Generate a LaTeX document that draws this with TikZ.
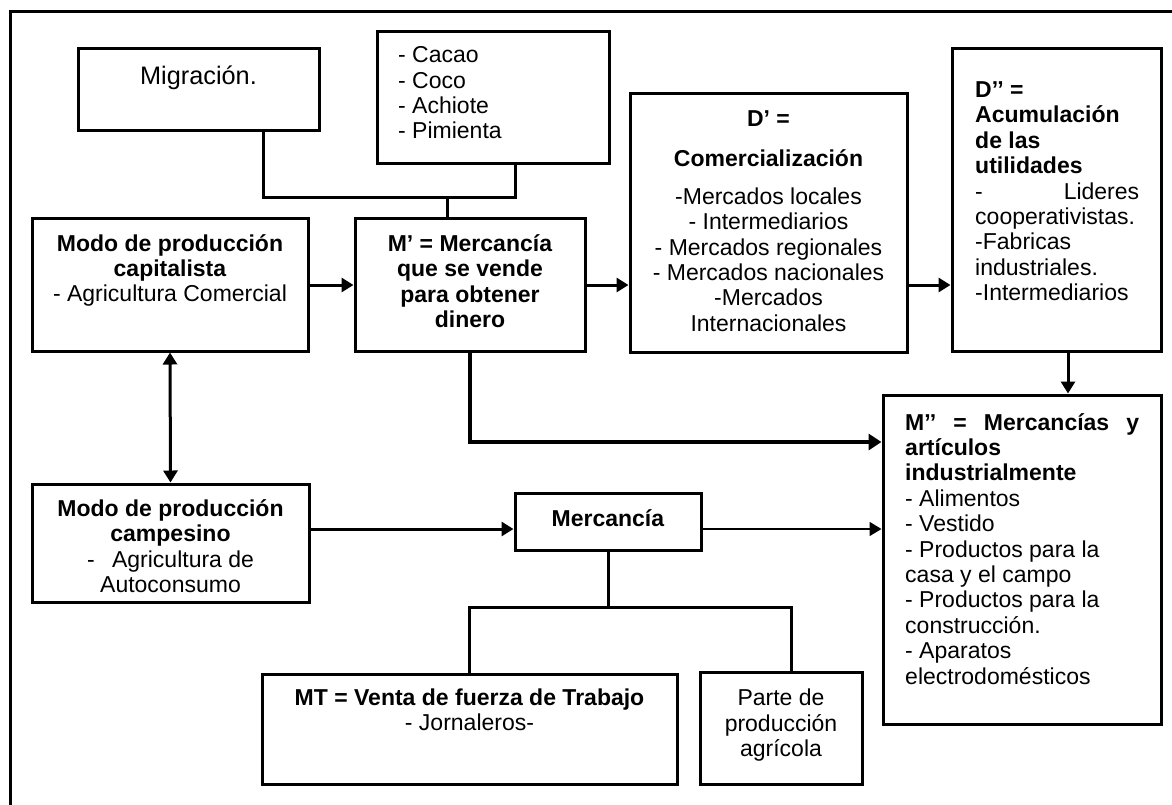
\documentclass[tikz,border=0pt]{standalone}
\usepackage{fontspec}
\setmainfont{Liberation Sans}
\usetikzlibrary{arrows.meta}
\newcommand\fs{\fontsize{23}{25.4}\selectfont}
\begin{document}
\begin{tikzpicture}[x=1pt,y=-1pt,
  box/.style={draw, line width=3pt, inner sep=0pt, rectangle},
  txt/.style={inner sep=0pt, font=\fs},
  conn/.style={line width=3pt},
  arr/.style={line width=3pt, -{Triangle[length=12pt,width=14pt]}},
  thickarr/.style={line width=4.5pt, -{Triangle[length=13pt,width=16pt]}},
  thinarr/.style={line width=1.7pt, -{Triangle[length=12pt,width=14pt]}}]
\useasboundingbox (0,0) rectangle (1172,804);
\clip (0,0) rectangle (1172,804);
\fill[white] (0,0) rectangle (1172,804);
% frame
\draw[line width=3pt] (10,830) -- (10,11) -- (1190,11);
% boxes
\node[box, minimum width=241pt, minimum height=82pt] (mig) at (198.5,89) {};
\node[box, minimum width=232pt, minimum height=132pt] (cacao) at (493,97) {};
\node[box, minimum width=276pt, minimum height=133pt] (cap) at (170,284.5) {};
\node[box, minimum width=230pt, minimum height=133pt] (mp) at (470,284.5) {};
\node[box, minimum width=277pt, minimum height=259pt] (dp) at (768.5,222.5) {};
\node[box, minimum width=209pt, minimum height=303pt] (dpp) at (1056.5,199.5) {};
\node[box, minimum width=278pt, minimum height=329pt] (mpp) at (1022,559.5) {};
\node[box, minimum width=277pt, minimum height=118pt] (camp) at (170.5,543) {};
\node[box, minimum width=186pt, minimum height=57pt] (merc) at (608,521.5) {};
\node[box, minimum width=415pt, minimum height=110pt] (mt) at (469.5,729) {};
\node[box, minimum width=162pt, minimum height=112pt] (parte) at (781,728) {};
% texts
\node[txt, anchor=north, font=\fontsize{25.3}{28}\selectfont] (tmig) at (198.5,65.5) {Migración.};
\node[txt, anchor=north west, align=left] (tcac) at (398,46.5) {- Cacao\\- Coco\\- Achiote\\- Pimienta};
\node[txt, anchor=north, align=center] (tcap) at (170,234) {\textbf{Modo de producción}\\\textbf{capitalista}\\- Agricultura Comercial};
\node[txt, anchor=north, align=center] (tmp) at (470,234.5) {\textbf{M’ = Mercancía}\\\textbf{que se vende}\\\textbf{para obtener}\\\textbf{dinero}};
\node[txt, anchor=north, align=center] (tdp) at (768.5,110.5) {\textbf{D’ =}\\[14.5pt]\textbf{Comercialización}\\[12.5pt]-Mercados locales\\- Intermediarios\\- Mercados regionales\\- Mercados nacionales\\-Mercados\\Internacionales};
\node[txt, anchor=north west, align=left] (tdpp) at (975,81.5) {\textbf{D’’ =}\\\textbf{Acumulación}\\\textbf{de las}\\\textbf{utilidades}\\\hbox to 164pt{-\hfill Lideres}\\cooperativistas.\\-Fabricas\\industriales.\\-Intermediarios};
\node[txt, anchor=north west, align=left] (tmpp) at (905,413) {\hbox to 234pt{\bfseries M’’\hfill=\hfill Mercancías\hfill y}\\\textbf{artículos}\\\textbf{industrialmente}\\- Alimentos\\- Vestido\\- Productos para la\\casa y el campo\\- Productos para la\\construcción.\\- Aparatos\\electrodomésticos};
\node[txt, anchor=north, align=center] (tcamp) at (170.5,499.5) {\textbf{Modo de producción}\\\textbf{campesino}\\-\hspace{11pt} Agricultura de\\Autoconsumo};
\node[txt, anchor=north] (tmerc) at (608,509) {\textbf{Mercancía}};
\node[txt, anchor=north, align=center] (tmt) at (469.5,688.5) {\textbf{MT = Venta de fuerza de Trabajo}\\- Jornaleros-};
\node[txt, anchor=north, align=center] (tparte) at (781,689) {Parte de\\producción\\agrícola};
% connector coordinates
\coordinate (jm) at (263,197);
\coordinate (jc) at (515,197);
\coordinate (jp) at (447,197);
\coordinate (ya) at (0,285);
\coordinate (xd) at (1068,0);
\coordinate (yt) at (0,442);
\coordinate (yc) at (0,529);
\coordinate (yl) at (0,607);
\coordinate (xp) at (791,0);
% connectors
\draw[conn] (mig.south -| jm) -- (jm) -- (jc) -- (cacao.south -| jc);
\draw[conn] (jp) -- (mp.north -| jp);
\draw[arr] (cap.east |- ya) -- (mp.west |- ya);
\draw[arr] (mp.east |- ya) -- (dp.west |- ya);
\draw[arr] (dp.east |- ya) -- (dpp.west |- ya);
\draw[arr] (dpp.south -| xd) -- (mpp.north -| xd);
\draw[conn, {Triangle[length=12pt,width=14pt]}-{Triangle[length=12pt,width=14pt]}] (cap.south) -- (camp.north);
\draw[thickarr] (mp.south) |- (mpp.west |- yt);
\draw[arr] (camp.east |- yc) -- (merc.west |- yc);
\draw[thinarr] (merc.east |- yc) -- (mpp.west |- yc);
\draw[conn] (merc.south) -- (merc.south |- yl);
\draw[conn] (mt.north) |- (xp |- yl) -- (parte.north -| xp);
\end{tikzpicture}
\end{document}
